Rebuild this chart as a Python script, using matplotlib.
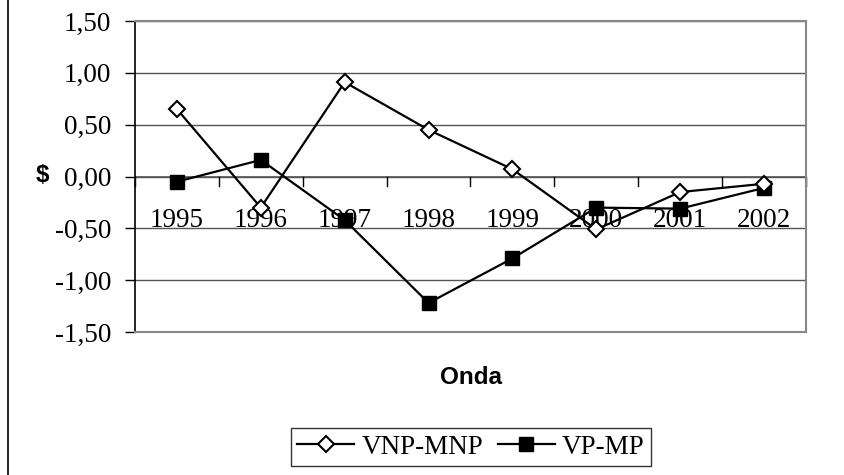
import matplotlib
matplotlib.use("Agg")
import matplotlib.pyplot as plt
from matplotlib.lines import Line2D

years = ["1995", "1996", "1997", "1998", "1999", "2000", "2001", "2002"]
vnp_mnp = [0.65, -0.30, 0.91, 0.45, 0.07, -0.51, -0.15, -0.07]
vp_mp = [-0.05, 0.16, -0.42, -1.22, -0.79, -0.30, -0.31, -0.11]
yticks = [-1.5, -1.0, -0.5, 0.0, 0.5, 1.0, 1.5]
ytick_labels = ["-1,50", "-1,00", "-0,50", "0,00", "0,50", "1,00", "1,50"]

serif = "Liberation Serif"
sans = "Liberation Sans"

fig = plt.figure(figsize=(8.45, 4.75), dpi=100)
ax = fig.add_axes([135 / 845, 1 - 332 / 475, 671 / 845, 311 / 475])

x = list(range(len(years)))
ax.plot(x, vnp_mnp, color="black", lw=1.6, marker="D", ms=8,
        mfc="white", mec="black", mew=1.5, label="VNP-MNP", zorder=4)
ax.plot(x, vp_mp, color="black", lw=1.6, marker="s", ms=10,
        mfc="black", mec="black", label="VP-MP", zorder=3)

ax.set_xlim(-0.5, len(years) - 0.5)
ax.set_ylim(-1.5, 1.5)

# grid lines
for v in yticks:
    ax.axhline(v, color="#555555", lw=1.0, zorder=1)
ax.axhline(0, color="#555555", lw=1.2, zorder=2)

ax.set_yticks(yticks)
ax.set_yticklabels(ytick_labels, fontfamily=serif, fontsize=19.5)
ax.tick_params(axis="y", direction="out", length=7, width=1, pad=10)
ax.set_xticks([])

# category ticks along the zero line
for i in range(len(years) + 1):
    ax.plot([i - 0.5, i - 0.5], [0, -0.09], color="black", lw=1,
            clip_on=False, zorder=2)
for i, yr in enumerate(years):
    ax.text(i, -0.42, yr, ha="center", va="center", fontfamily=serif,
            fontsize=19.5, zorder=2)

for s in ["top", "right", "bottom"]:
    ax.spines[s].set_color("#888888")
    ax.spines[s].set_linewidth(1.5)
ax.spines["left"].set_color("black")
ax.spines["left"].set_linewidth(1.2)

fig.text(42 / 845, 1 - 176 / 475, "$", ha="center", va="center",
         fontfamily=sans, fontweight="bold", fontsize=17.5)
fig.text(471 / 845, 1 - 377 / 475, "Onda", ha="center", va="center",
         fontfamily=sans, fontweight="bold", fontsize=17.5)

# chart area left border
fig.add_artist(Line2D([8 / 845, 8 / 845], [0, 1], color="black", lw=1.2))

leg = fig.legend(loc="center", bbox_to_anchor=(471 / 845, 1 - 447 / 475),
                 ncol=2, frameon=True, fancybox=False, edgecolor="black",
                 prop={"family": serif, "size": 19.5}, handlelength=2.1,
                 columnspacing=0.55, handletextpad=0.26, borderpad=0.25,
                 borderaxespad=0)
leg.get_frame().set_linewidth(1.0)

fig.savefig("out.png", dpi=100)
